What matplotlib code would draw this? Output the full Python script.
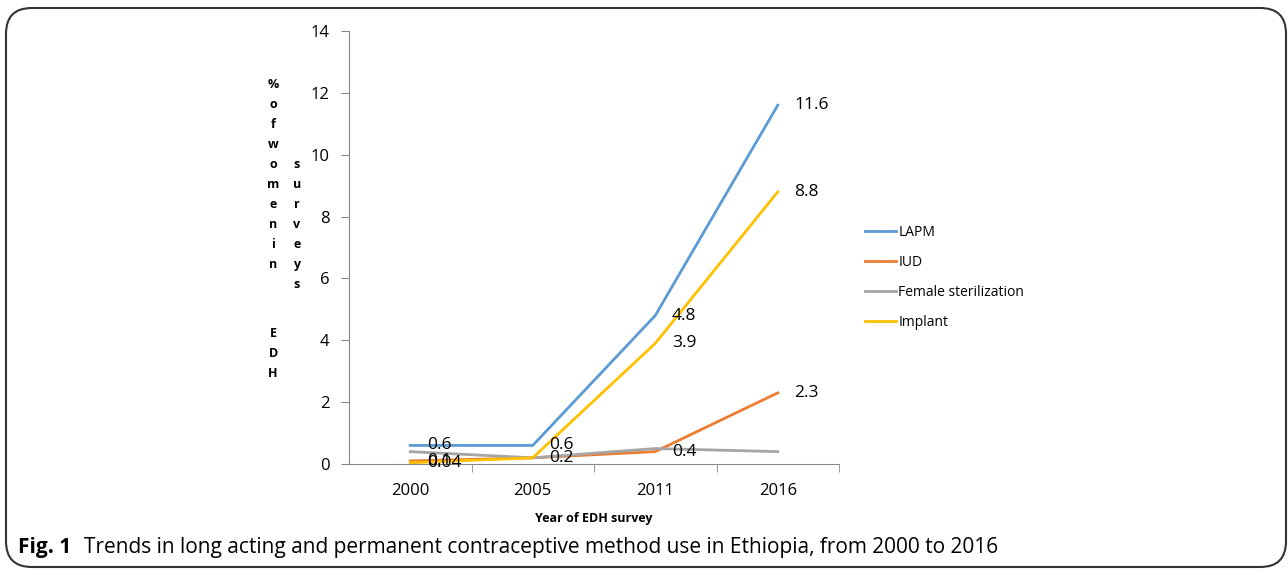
import matplotlib.pyplot as plt
from matplotlib.patches import FancyBboxPatch

plt.rcParams['font.family'] = ['Open Sans', 'DejaVu Sans']

years = ['2000', '2005', '2011', '2016']
lapm = [0.6, 0.6, 4.8, 11.6]
iud = [0.1, 0.2, 0.4, 2.3]
female_ster = [0.4, 0.2, 0.5, 0.4]
implant = [0.04, 0.2, 3.9, 8.8]

series = [
    ('LAPM', lapm, '#5B9BD5', [0, 1, 2, 3]),
    ('IUD', iud, '#ED7D31', [0, 1, 2, 3]),
    ('Female sterilization', female_ster, '#A5A5A5', []),
    ('Implant', implant, '#FFC000', [0, 2, 3]),
]

fig = plt.figure(figsize=(12.88, 5.69), dpi=100)
ax = fig.add_axes([349 / 1288, 1 - 464 / 569, 490 / 1288, 433 / 569])

x = list(range(len(years)))
for name, vals, col, lab_idx in series:
    ax.plot(x, vals, color=col, lw=2, label=name)
    for i in lab_idx:
        ax.annotate(str(vals[i]), (x[i], vals[i]), xytext=(12, 0),
                    textcoords='offset points', va='center', ha='left',
                    fontsize=12.5, color='black')

ax.set_xlim(-0.5, 3.5)
ax.set_ylim(0, 14)
ax.set_yticks(range(0, 15, 2))
ax.set_xticks(x)
ax.set_xticklabels(years)
ax.set_xticks([0.5, 1.5, 2.5, 3.5], minor=True)
ax.tick_params(axis='x', which='major', length=0, pad=14, labelsize=12)
ax.tick_params(axis='x', which='minor', length=6, color='#868686')
ax.tick_params(axis='y', length=6, color='#868686', labelsize=12, pad=8)
for s in ['top', 'right']:
    ax.spines[s].set_visible(False)
ax.spines['left'].set_color('#868686')
ax.spines['bottom'].set_color('#868686')
ax.set_xlabel('Year of EDH survey', fontsize=9, fontweight='bold', labelpad=9)

leg = ax.legend(loc='center left', bbox_to_anchor=(1.053, 0.43), frameon=False,
                fontsize=10, handlelength=2.2, handletextpad=0.2, labelspacing=1.08,
                borderaxespad=0, borderpad=0)

# stacked y label
fig.text(273 / 1288, 1 - 78 / 569, '\n'.join('%ofwomenin'), fontsize=9,
         fontweight='bold', ha='center', va='top', linespacing=1.7)
fig.text(273 / 1288, 1 - 327 / 569, '\n'.join('EDH'), fontsize=9,
         fontweight='bold', ha='center', va='top', linespacing=1.7)
fig.text(297 / 1288, 1 - 158 / 569, '\n'.join('surveys'), fontsize=9,
         fontweight='bold', ha='center', va='top', linespacing=1.7)

# caption
fig.text(18 / 1288, 1 - 548 / 569, 'Fig. 1', fontsize=15, fontweight='bold',
         ha='left', va='center')
fig.text(84 / 1288, 1 - 548 / 569,
         'Trends in long acting and permanent contraceptive method use in Ethiopia, from 2000 to 2016',
         fontsize=15, ha='left', va='center')

box = FancyBboxPatch((6 / 1288, 2 / 569), 1280 / 1288, 559 / 569,
                     boxstyle='round,pad=0,rounding_size=0.02',
                     transform=fig.transFigure, fill=False, ec='#333333', lw=1.5,
                     mutation_aspect=1288 / 569)
fig.patches.append(box)

fig.savefig('out.png', dpi=100)
